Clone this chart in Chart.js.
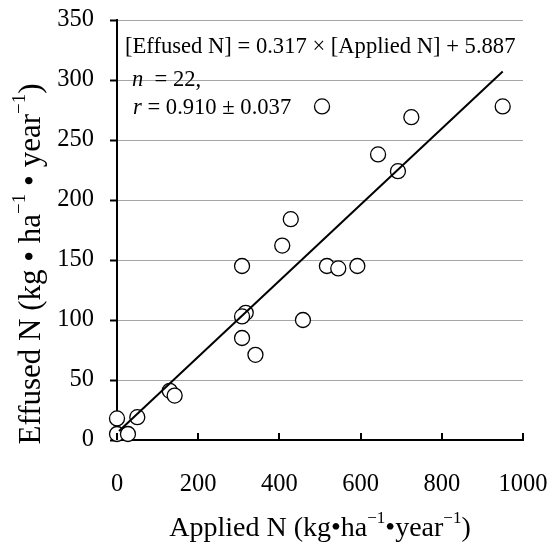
<!DOCTYPE html>
<html>
<head>
<meta charset="utf-8">
<script src="https://cdn.jsdelivr.net/npm/chart.js@4.4.1/dist/chart.umd.min.js"></script>
<style>
  body { margin: 0; background: #fff; }
  canvas { display: block; }
</style>
</head>
<body>
<canvas id="chart" width="555" height="548"></canvas>
<script>
// data
const appliedN = [505, 725, 950, 643, 692, 428, 407, 308, 517, 545, 592, 317, 308, 458, 308, 341, 130, 142, 50, 0, 0, 27];
const effusedN = [278, 269, 278, 238, 224, 184, 162, 145, 145, 143, 145, 106, 103, 100, 85, 71, 41, 37, 19, 18, 5, 5];

// regression as printed on the figure
const fitSlope = 0.317;
const fitIntercept = 5.887;
const fitRange = [5, 950];

const xTicks = [0, 200, 400, 600, 800, 1000];
const yTicks = [0, 50, 100, 150, 200, 250, 300, 350];

const serif = "'Liberation Serif', 'Times New Roman', serif";

const points = appliedN.map((x, i) => ({ x: x, y: effusedN[i] }));
const fitLine = fitRange.map(x => ({ x: x, y: fitSlope * x + fitIntercept }));

// draw a run of text pieces, some of them superscript or italic
function drawRich(ctx, parts, x, y, size, align) {
  const fontOf = p => `${p.italic ? "italic " : ""}${p.sup ? Math.round(size * 0.62) : size}px ${serif}`;
  let total = 0;
  parts.forEach(p => { ctx.font = fontOf(p); total += ctx.measureText(p.t).width; });
  let cx = align === "center" ? x - total / 2 : x;
  ctx.textBaseline = "middle";
  ctx.textAlign = "left";
  parts.forEach(p => {
    ctx.font = fontOf(p);
    ctx.fillText(p.t, cx, p.sup ? y - size * 0.38 : y);
    cx += ctx.measureText(p.t).width;
  });
}

const decorations = {
  id: "decorations",
  afterDraw(chart) {
    const ctx = chart.ctx;
    const xs = chart.scales.x;
    const area = chart.chartArea;
    ctx.save();
    ctx.fillStyle = "#000";
    ctx.strokeStyle = "#000";

    // x tick marks point inward
    ctx.lineWidth = 2;
    xTicks.forEach(v => {
      const px = Math.round(xs.getPixelForValue(v));
      ctx.beginPath();
      ctx.moveTo(px, area.bottom);
      ctx.lineTo(px, area.bottom - 7);
      ctx.stroke();
    });

    // axis titles
    drawRich(ctx, [
      { t: "Applied N (kg•ha" }, { t: "−1", sup: true },
      { t: "•year" }, { t: "−1", sup: true }, { t: ")" }
    ], (area.left + area.right) / 2, 529, 28, "center");

    ctx.save();
    ctx.translate(32, 264);
    ctx.rotate(-Math.PI / 2);
    drawRich(ctx, [
      { t: "Effused N (kg • ha" }, { t: "−1", sup: true },
      { t: " • year" }, { t: "−1", sup: true }, { t: ")" }
    ], 0, 0, 31, "center");
    ctx.restore();

    // regression annotation
    drawRich(ctx, [{ t: "[Effused N] = 0.317 × [Applied N] + 5.887" }], 125, 47, 22.6, "left");
    drawRich(ctx, [{ t: "n", italic: true }, { t: "  = 22," }], 132, 80, 22.6, "left");
    drawRich(ctx, [{ t: "r", italic: true }, { t: " = 0.910 ± 0.037" }], 133, 108, 22.6, "left");
    ctx.restore();
  }
};

new Chart(document.getElementById("chart"), {
  type: "scatter",
  data: {
    datasets: [
      {
        type: "line",
        data: fitLine,
        borderColor: "#000",
        borderWidth: 2,
        pointRadius: 0,
        fill: false,
        order: 0,
        clip: false
      },
      {
        data: points,
        pointRadius: 7.5,
        pointBorderWidth: 1.3,
        pointBackgroundColor: "#fff",
        pointBorderColor: "#000",
        order: 1,
        clip: false
      }
    ]
  },
  options: {
    responsive: false,
    animation: false,
    devicePixelRatio: 1,
    layout: { padding: { top: 20, right: 32, left: 0, bottom: 0 } },
    plugins: { legend: { display: false }, tooltip: { enabled: false } },
    scales: {
      x: {
        type: "linear",
        min: 0,
        max: 1000,
        afterBuildTicks: s => { s.ticks = xTicks.map(v => ({ value: v })); },
        afterFit: s => { s.height = 108; s.paddingLeft = 0; s.paddingRight = 0; },
        grid: { display: false },
        border: { display: true, color: "#000", width: 2 },
        ticks: { color: "#000", padding: 22, font: { family: serif, size: 24.5 }, callback: v => String(v) }
      },
      y: {
        type: "linear",
        min: 0,
        max: 350,
        afterBuildTicks: s => { s.ticks = yTicks.map(v => ({ value: v })); },
        afterFit: s => { s.width = 117; s.paddingTop = 0; s.paddingBottom = 0; },
        grid: { color: "#a6a6a6", lineWidth: 1, tickColor: "#000", tickWidth: 2, tickLength: 7 },
        border: { display: true, color: "#000", width: 2 },
        ticks: { color: "#000", padding: 16, font: { family: serif, size: 24.5 } }
      }
    }
  },
  plugins: [decorations]
});
</script>
</body>
</html>
